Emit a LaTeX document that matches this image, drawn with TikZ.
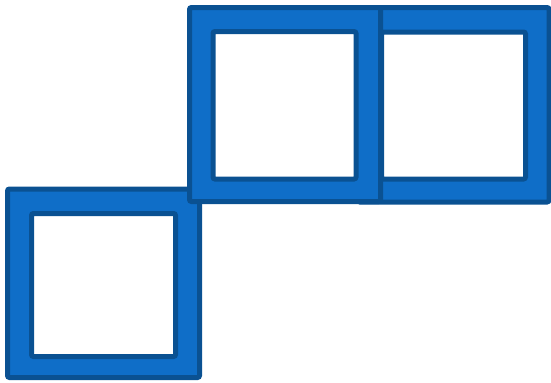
\documentclass[tikz,border=0pt]{standalone}
\usepackage{xcolor}
\usepackage{tikz}
\definecolor{framefill}{HTML}{0F6EC8}
\definecolor{frameedge}{HTML}{0A5192}
\tikzset{
  sqframe/.style={even odd rule,fill=framefill,draw=frameedge,line width=2.5pt,rounded corners=1pt}
}
\begin{document}
\begin{tikzpicture}[x=0.5pt,y=-0.5pt]
\useasboundingbox (0,0) rectangle (551,382);
% right square, partly under the middle one
\draw[sqframe] (358,7.5) rectangle (549,202) (381.5,32) rectangle (525.5,179);
% lower left square
\draw[sqframe] (7.5,189) rectangle (199.5,377.5) (31.5,213.5) rectangle (175.5,356.5);
% upper middle square, on top
\draw[sqframe] (189.5,7.5) rectangle (380.5,201.5) (213,31.5) rectangle (356,179);
\end{tikzpicture}
\end{document}
